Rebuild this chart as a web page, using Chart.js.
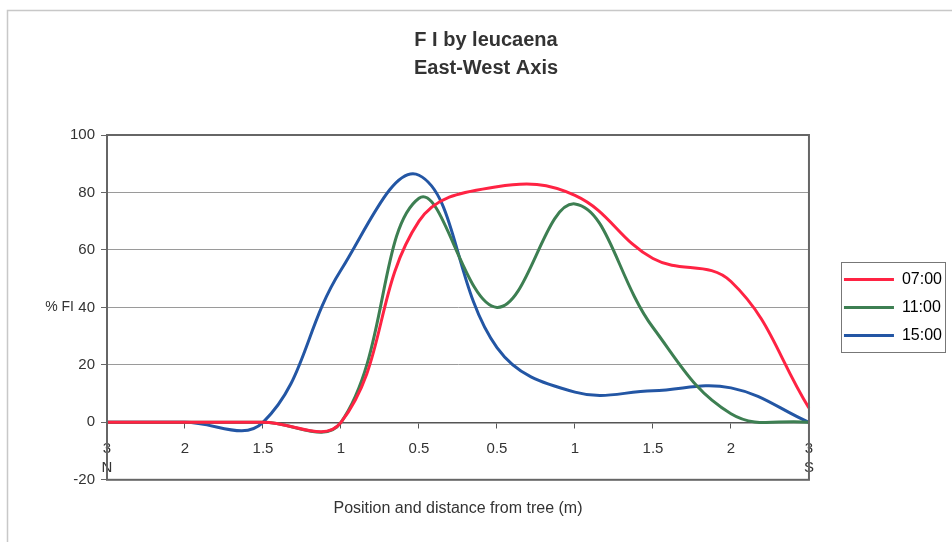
<!DOCTYPE html>
<html>
<head>
<meta charset="utf-8">
<script src="https://cdn.jsdelivr.net/npm/chart.js@4"></script>
<style>
  html, body { margin: 0; padding: 0; background: #fff; }
  #wrap { width: 952px; height: 542px; position: relative; }
</style>
</head>
<body>
<div id="wrap"><canvas id="fiChart"></canvas></div>
<script>
// Data
const positions = [['3', 'N'], '2', '1.5', '1', '0.5', '0.5', '1', '1.5', '2', ['3', 'S']];
const seriesNames = ['07:00', '11:00', '15:00'];
const fi0700 = [0, 0, 0, 0, 70, 82, 79, 57, 49, 5];
const fi1100 = [0, 0, 0, 0, 78, 40, 76, 33, 3, 0];
const fi1500 = [0, 0, 0, 53, 86, 26, 10.5, 11, 12, 0];
const yTicks = [-20, 0, 20, 40, 60, 80, 100];
const seriesColors = ['#ff2343', '#3d7f52', '#2356a4'];

Chart.defaults.font.family = 'Arial, "Liberation Sans", sans-serif';
Chart.defaults.color = '#333';

// frame around the plot area, the legend box and the "% FI" label
const decorations = {
    id: 'decorations',
    beforeDraw(chart) {
        const ctx = chart.ctx;
        ctx.save();
        ctx.strokeStyle = '#c8c8c8';
        ctx.lineWidth = 1.5;
        ctx.beginPath();
        ctx.moveTo(952, 10.5);
        ctx.lineTo(7.5, 10.5);
        ctx.lineTo(7.5, 542);
        ctx.stroke();
        ctx.restore();
    },
    afterDraw(chart) {
        const ctx = chart.ctx;
        const a = chart.chartArea;
        ctx.save();
        ctx.strokeStyle = '#666';
        ctx.lineWidth = 2;
        ctx.strokeRect(a.left, a.top, a.right - a.left, a.bottom - a.top);

        // legend box
        const boxes = chart.legend.legendHitBoxes;
        if (boxes.length) {
            const x0 = Math.min(...boxes.map(b => b.left)) - 3;
            const x1 = Math.max(...boxes.map(b => b.left + b.width)) + 3;
            const y0 = Math.min(...boxes.map(b => b.top)) - 9;
            const y1 = Math.max(...boxes.map(b => b.top + b.height)) + 9;
            ctx.strokeStyle = '#777';
            ctx.lineWidth = 1;
            ctx.strokeRect(Math.round(x0) + 0.5, Math.round(y0) + 0.5, Math.round(x1 - x0), Math.round(y1 - y0));
        }

        // y axis title, horizontal like in the original
        ctx.fillStyle = '#333';
        ctx.font = '14px Arial, "Liberation Sans", sans-serif';
        ctx.textAlign = 'right';
        ctx.textBaseline = 'middle';
        ctx.fillText('% FI', 74, chart.scales.y.getPixelForValue(40));
        ctx.restore();
    }
};

const datasets = [fi0700, fi1100, fi1500].map((values, i) => ({
    label: seriesNames[i],
    data: values,
    yAxisID: 'y',
    borderColor: seriesColors[i],
    backgroundColor: seriesColors[i],
    borderWidth: 3,
    pointRadius: 0,
    tension: 0.4,
    fill: false
}));

new Chart(document.getElementById('fiChart'), {
    type: 'line',
    data: { labels: positions, datasets: datasets },
    plugins: [decorations],
    options: {
        responsive: true,
        maintainAspectRatio: false,
        animation: false,
        layout: { padding: { left: 20, right: 0, top: 0, bottom: 0 } },
        plugins: {
            title: {
                display: true,
                text: ['F I by leucaena', 'East-West Axis'],
                color: '#333',
                font: { size: 20, weight: 'bold', lineHeight: 1.4 },
                padding: { top: 26, bottom: 53 }
            },
            subtitle: {
                display: true,
                fullSize: false,
                position: 'bottom',
                text: 'Position and distance from tree (m)',
                color: '#333',
                font: { size: 16 },
                padding: { top: 19, bottom: 24 }
            },
            legend: {
                position: 'right',
                fullSize: false,
                labels: {
                    boxWidth: 50,
                    boxHeight: 3,
                    padding: 12,
                    color: '#333',
                    font: { size: 16 },
                    generateLabels(chart) {
                        return chart.data.datasets.map((ds, i) => ({
                            text: ds.label,
                            fillStyle: ds.borderColor,
                            strokeStyle: ds.borderColor,
                            lineWidth: 0,
                            datasetIndex: i
                        }));
                    }
                }
            },
            tooltip: { enabled: false }
        },
        scales: {
            x: {
                type: 'category',
                position: { y: 0 },
                offset: false,
                border: { display: true, color: '#555', width: 1.5 },
                grid: { display: true, drawOnChartArea: false, drawTicks: true, tickLength: 5, color: '#555' },
                ticks: { color: '#333', font: { size: 15, lineHeight: 1.25 }, padding: 12, maxRotation: 0, autoSkip: false }
            },
            y: {
                min: -20,
                max: 100,
                afterBuildTicks(scale) {
                    scale.ticks = yTicks.map(v => ({ value: v }));
                },
                afterFit(scale) {
                    scale.width = 87;
                },
                border: { display: true, color: '#666', width: 2 },
                grid: { color: '#9a9a9a', lineWidth: 1, tickLength: 6, tickColor: '#666' },
                ticks: { color: '#333', font: { size: 15 }, padding: 6 }
            },
            // empty axis on the right: only keeps the gap between plot and legend
            gap: {
                type: 'linear',
                position: 'right',
                display: true,
                grid: { display: false },
                border: { display: false },
                ticks: { display: false },
                afterFit(scale) {
                    scale.width = 23;
                }
            }
        }
    }
});
</script>
</body>
</html>
